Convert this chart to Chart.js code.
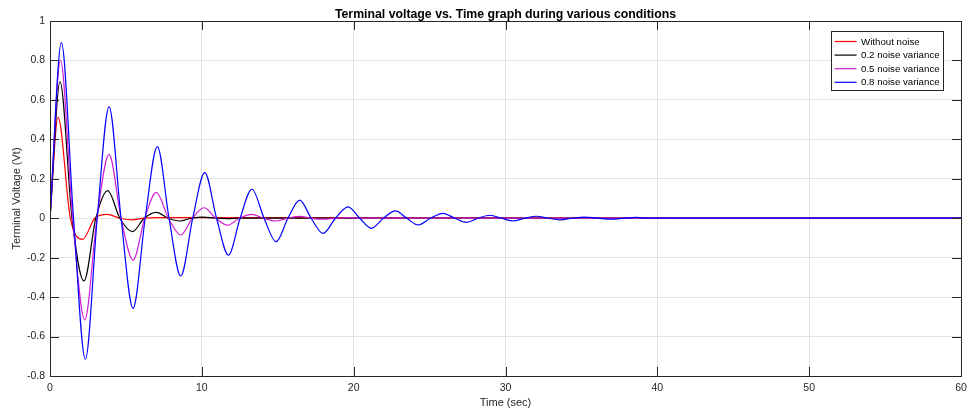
<!DOCTYPE html>
<html>
<head>
<meta charset="utf-8">
<script src="https://cdn.jsdelivr.net/npm/chart.js@4.4.0/dist/chart.umd.min.js"></script>
<style>
  body { margin: 0; background: #fff; }
  #wrap { width: 969px; height: 414px; position: relative; }
</style>
</head>
<body>
<div id="wrap"><canvas id="myChart"></canvas></div>
<script>
let ctx = document.getElementById('myChart')

// series: time (sec) and terminal voltage
let seriesNames = ['Without noise', '0.2 noise variance', '0.5 noise variance', '0.8 noise variance']
let seriesColors = ['#ff0000', '#000000', '#d21fd2', '#0000ff']

let tRed = [0, 0.53, 1.34, 2.15, 2.95, 3.75, 4.6, 5.4, 6.2, 7.0, 60]
let vRed = [0, 0.512, 0, -0.107, 0, 0.020, 0, -0.008, 0, 0.003, 0]

let tBlack = [0, 0.66, 1.45, 2.24, 3.02, 3.8, 4.6, 5.43, 6.2, 7.0, 7.78, 8.55, 9.3, 10.08, 10.9, 11.7, 12.5, 60]
let vBlack = [0, 0.692, 0, -0.318, 0, 0.140, 0, -0.068, 0, 0.030, 0, -0.014, 0, 0.006, 0, -0.002, 0, 0]

let tMag = [0, 0.69, 1.49, 2.29, 3.09, 3.89, 4.68, 5.47, 6.24, 7.0, 7.8, 8.61, 9.38, 10.15, 10.92, 11.69, 12.48, 13.27,
    14.07, 14.87, 15.66, 16.45, 17.2, 18.0, 18.8, 19.6, 20.4, 60]
let vMag = [0, 0.802, 0, -0.516, 0, 0.324, 0, -0.212, 0, 0.131, 0, -0.085, 0, 0.053, 0, -0.035, 0, 0.020,
    0, -0.014, 0, 0.009, 0, -0.005, 0, 0.003, 0, 0]

let tBlue = [0, 0.75, 1.55, 2.33, 3.11, 3.89, 4.68, 5.47, 6.27, 7.07, 7.84, 8.61, 9.4, 10.19, 10.97, 11.75, 12.52, 13.3,
    14.1, 14.89, 15.67, 16.45, 17.2, 17.98, 18.8, 19.63, 20.4, 21.17, 21.96, 22.75, 23.5, 24.24, 25.06, 25.89,
    26.66, 27.43, 28.2, 28.97, 29.74, 30.5, 31.27, 32.04, 32.8, 33.58, 34.4, 35.2, 36.1, 37.0, 37.8, 38.6, 39.5, 60]
let vBlue = [0, 0.89, 0, -0.715, 0, 0.565, 0, -0.457, 0, 0.363, 0, -0.293, 0, 0.231, 0, -0.187, 0, 0.147,
    0, -0.119, 0, 0.092, 0, -0.077, 0, 0.058, 0, -0.051, 0, 0.037, 0, -0.034, 0, 0.025,
    0, -0.021, 0, 0.015, 0, -0.014, 0, 0.010, 0, -0.008, 0, 0.006, 0, -0.005, 0, 0.004, 0, 0]

let xTicks = [0, 10, 20, 30, 40, 50, 60]
let yTicks = [-0.8, -0.6, -0.4, -0.2, 0, 0.2, 0.4, 0.6, 0.8, 1]

function toPoints(ts, vs) {
    return ts.map((t, i) => ({ x: t, y: vs[i] }))
}

let allSeries = [toPoints(tRed, vRed), toPoints(tBlack, vBlack), toPoints(tMag, vMag), toPoints(tBlue, vBlue)]

let axisColor = '#262626'

// box, inner tick marks, title and legend like the matlab figure
let matlabLook = {
    id: 'matlabLook',
    afterDraw(chart) {
        let c = chart.ctx
        let a = chart.chartArea
        let xs = chart.scales.x
        let ys = chart.scales.y
        c.save()
        c.strokeStyle = axisColor
        c.lineWidth = 1
        c.beginPath()
        xTicks.forEach(v => {
            let px = Math.round(xs.getPixelForValue(v)) + 0.5
            c.moveTo(px, a.bottom); c.lineTo(px, a.bottom - 9)
            c.moveTo(px, a.top); c.lineTo(px, a.top + 9)
        })
        yTicks.forEach(v => {
            let py = Math.round(ys.getPixelForValue(v)) + 0.5
            c.moveTo(a.left, py); c.lineTo(a.left + 9, py)
            c.moveTo(a.right, py); c.lineTo(a.right - 9, py)
        })
        c.stroke()
        c.strokeRect(Math.round(a.left) + 0.5, Math.round(a.top) + 0.5, Math.round(a.right - a.left), Math.round(a.bottom - a.top))

        // title
        c.fillStyle = '#000'
        c.font = 'bold 12.3px "Liberation Sans", Arial, sans-serif'
        c.textAlign = 'center'
        c.textBaseline = 'alphabetic'
        c.fillText('Terminal voltage vs. Time graph during various conditions', (a.left + a.right) / 2, 18)

        // legend
        let bx = Math.round(a.right) - 129.5
        let by = Math.round(a.top) + 10.5
        c.fillStyle = '#fff'
        c.fillRect(bx, by, 112, 59)
        c.strokeStyle = axisColor
        c.strokeRect(bx, by, 112, 59)
        c.font = '9.7px "Liberation Sans", Arial, sans-serif'
        c.textAlign = 'left'
        c.textBaseline = 'middle'
        seriesNames.forEach((name, i) => {
            let ry = by + 10 + i * 13.6
            c.strokeStyle = seriesColors[i]
            c.lineWidth = 1.2
            c.beginPath()
            c.moveTo(bx + 3, ry); c.lineTo(bx + 25, ry)
            c.stroke()
            c.fillStyle = '#000'
            c.fillText(name, bx + 29.5, ry + 0.5)
        })
        c.restore()
    }
}

new Chart(ctx, {
    type: 'line',
    data: {
        datasets: allSeries.map((pts, i) => ({
            label: seriesNames[i],
            data: pts,
            borderColor: seriesColors[i],
            borderWidth: 1.2,
            pointRadius: 0,
            fill: false,
            cubicInterpolationMode: 'monotone',
            order: 3 - i
        }))
    },
    options: {
        responsive: true,
        maintainAspectRatio: false,
        animation: false,
        layout: { padding: { top: 21, right: 8, left: 0, bottom: 0 } },
        plugins: {
            legend: { display: false },
            title: { display: false },
            tooltip: { enabled: false }
        },
        scales: {
            x: {
                type: 'linear',
                min: 0,
                max: 60,
                afterBuildTicks: s => { s.ticks = xTicks.map(v => ({ value: v })) },
                afterFit: s => { s.height = 38; s.paddingRight = 0 },
                grid: { color: '#e2e2e2', drawTicks: false },
                border: { display: false },
                ticks: {
                    padding: 6,
                    maxRotation: 0,
                    color: axisColor,
                    font: { family: '"Liberation Sans", Arial, sans-serif', size: 10.5 }
                },
                title: {
                    display: true,
                    text: 'Time (sec)',
                    color: axisColor,
                    padding: { top: 0, bottom: 4 },
                    font: { family: '"Liberation Sans", Arial, sans-serif', size: 11 }
                }
            },
            y: {
                min: -0.8,
                max: 1,
                afterBuildTicks: s => { s.ticks = yTicks.map(v => ({ value: v })) },
                afterFit: s => { s.width = 50 },
                grid: { color: '#e2e2e2', drawTicks: false },
                border: { display: false },
                ticks: {
                    padding: 5,
                    color: axisColor,
                    font: { family: '"Liberation Sans", Arial, sans-serif', size: 10.5 },
                    callback: v => String(Math.round(v * 10) / 10)
                },
                title: {
                    display: true,
                    text: 'Terminal Voltage (Vt)',
                    color: axisColor,
                    padding: { top: 10, bottom: 0 },
                    font: { family: '"Liberation Sans", Arial, sans-serif', size: 11 }
                }
            }
        }
    },
    plugins: [matlabLook]
})
</script>
</body>
</html>
